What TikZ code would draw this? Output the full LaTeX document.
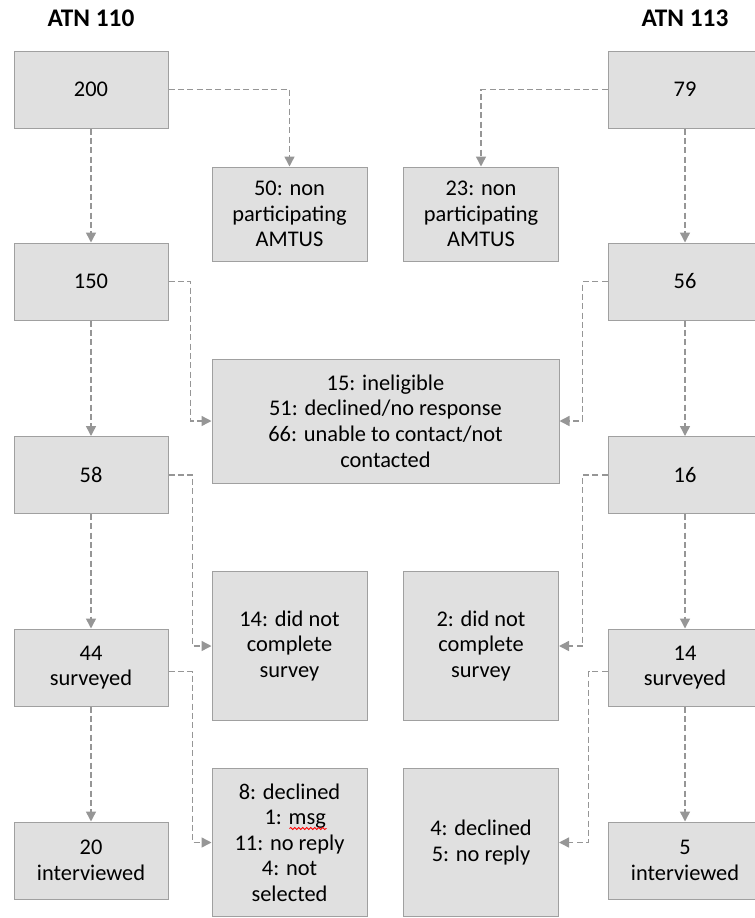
\documentclass[tikz,border=0pt]{standalone}
\usepackage{fontspec}
\setmainfont{Carlito}
\usepackage{xcolor}
\usetikzlibrary{arrows.meta,decorations.pathmorphing}
\definecolor{boxfill}{RGB}{224,224,224}
\definecolor{boxline}{RGB}{160,160,160}
\definecolor{flowline}{RGB}{150,150,150}

\begin{document}
\begin{tikzpicture}[x=0.75pt,y=0.75pt,yscale=-1,xscale=1,
    flowbox/.style={draw=boxline, fill=boxfill, line width=0.75pt, inner sep=2pt, align=center, font=\fontsize{16.8}{19.2}\selectfont},
    countbox/.style={flowbox, minimum width=115.5pt, minimum height=57.75pt},
    amtusbox/.style={flowbox, minimum width=116.25pt, minimum height=70.5pt},
    dropbox/.style={flowbox, minimum width=116.25pt, minimum height=111.5pt},
    flow/.style={draw=flowline, line width=1.1pt, dash pattern=on 4.5pt off 2.5pt, -{Triangle[length=7.5pt,width=7.5pt]}},
    spellmark/.style={red, line width=0.6pt, decorate, decoration={snake, amplitude=0.8pt, segment length=3pt}},
    title/.style={font=\fontsize{19}{22}\selectfont\bfseries}]
    \useasboundingbox (0,0) rectangle (754,918);

    % Titles
    \node[title] (t110) at (91,18) {ATN 110};
    \node[title] (t113) at (685,18) {ATN 113};

    % ATN 110 column
    \node[countbox] (a200) at (91,89.5) {200};
    \node[countbox] (a150) at (91,281.5) {150};
    \node[countbox] (a58) at (91,475) {58};
    \node[countbox] (a44) at (91,667.5) {44\\surveyed};
    \node[countbox] (a20) at (91,860.5) {20\\interviewed};

    % ATN 113 column
    \node[countbox] (b79) at (685,89.5) {79};
    \node[countbox] (b56) at (685,281.5) {56};
    \node[countbox] (b16) at (685,475) {16};
    \node[countbox] (b14) at (685,667.5) {14\\surveyed};
    \node[countbox] (b5) at (685,860.5) {5\\interviewed};

    % Drop-out boxes
    \node[amtusbox] (aamtus) at (289.5,214) {50: non\\participating\\AMTUS};
    \node[amtusbox] (bamtus) at (481,214) {23: non\\participating\\AMTUS};
    \node[flowbox, minimum width=260.25pt, minimum height=93pt] (inelig) at (385.5,421) {15: ineligible\\51: declined/no response\\66: unable to contact/not\\contacted};
    \node[dropbox] (anotdone) at (289.5,646) {14: did not\\complete\\survey};
    \node[dropbox] (bnotdone) at (481,646) {2: did not\\complete\\survey};
    \node[dropbox] (adecl) at (289.5,842.5) {8: declined\\\phantom{1}1: msg\\11: no reply\\4: not\\selected};
    \node[dropbox] (bdecl) at (481,842.5) {4: declined\\5: no reply};
    \draw[spellmark] ([xshift=0pt,yshift=-10.5pt]adecl.center) -- ++(37,0);

    % Main flow
    \draw[flow] (a200) -- (a150);
    \draw[flow] (a150) -- (a58);
    \draw[flow] (a58) -- (a44);
    \draw[flow] (a44) -- (a20);
    \draw[flow] (b79) -- (b56);
    \draw[flow] (b56) -- (b16);
    \draw[flow] (b16) -- (b14);
    \draw[flow] (b14) -- (b5);

    % Side flows
    \draw[flow] (a200.east) -| (aamtus.north);
    \draw[flow] (b79.west) -| (bamtus.north);
    \draw[flow] (a150.east) -- ++(22,0) |- (inelig.west);
    \draw[flow] (b56.west) -- ++(-25,0) |- (inelig.east);
    \draw[flow] (a58.east) -- ++(24,0) |- (anotdone.west);
    \draw[flow] (b16.west) -- ++(-25,0) |- (bnotdone.east);
    \draw[flow] ([yshift=3pt]a44.east) -- ++(24,0) |- (adecl.west);
    \draw[flow] ([yshift=3pt]b14.west) -- ++(-19,0) |- (bdecl.east);
\end{tikzpicture}
\end{document}
